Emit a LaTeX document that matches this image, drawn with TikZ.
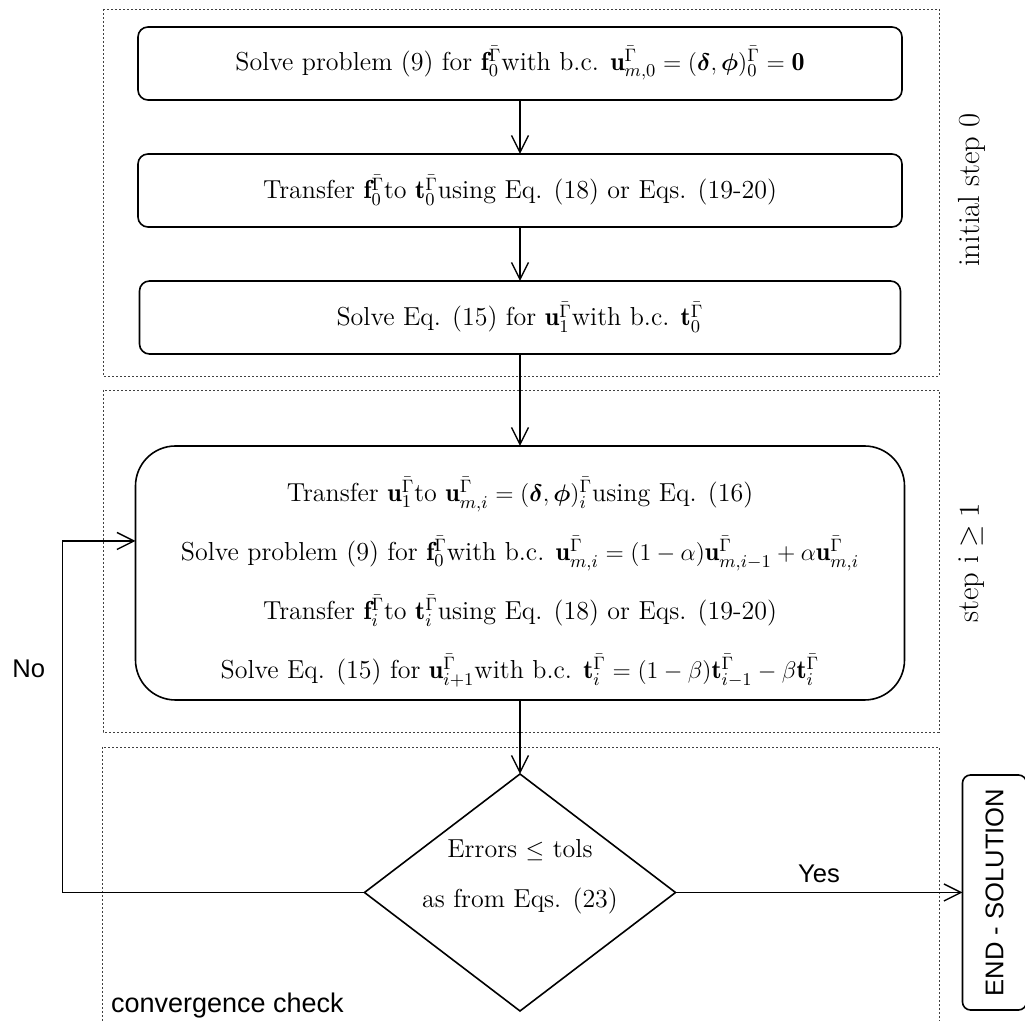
\documentclass[tikz,border=0pt]{standalone}
\usepackage{amsmath}
\usepackage{fontspec}
\newfontfamily\helv{Liberation Sans}
\usepackage{tikz}
\usetikzlibrary{arrows.meta, positioning, shapes.geometric, calc}

\begin{document}
\begin{tikzpicture}[
  x=0.5pt, y=-0.5pt,
  node distance = 27pt,
  stepbox/.style = {draw, line width=0.8pt, outer sep=0pt, rounded corners=5pt, align=center, minimum width=382pt, minimum height=36.5pt, font=\fontsize{13}{16}\selectfont},
  loopbox/.style = {draw, line width=0.8pt, outer sep=0pt, rounded corners=20pt, align=center, minimum width=384.5pt, minimum height=127pt, font=\fontsize{13}{29.5}\selectfont},
  checkbox/.style = {draw, diamond, line width=0.8pt, outer sep=0pt, inner sep=0pt, minimum width=155.5pt, minimum height=118.5pt},
  endbox/.style = {draw, line width=0.8pt, outer sep=0pt, rounded corners=4pt, rotate=90, minimum width=117.5pt, minimum height=32pt, font=\helv\fontsize{12.8}{15}\selectfont},
  zone/.style = {draw=black!75, line width=0.4pt, dash pattern=on 1pt off 1pt},
  sidelabel/.style = {rotate=90, font=\fontsize{15.3}{18}\selectfont},
  yesno/.style = {font=\helv\fontsize{12.8}{15}\selectfont},
  arrow/.style = {line width=0.7pt, -{Straight Barb[length=8.5pt,width=8.5pt]}}
]
\useasboundingbox (0,0) rectangle (1025,1021);

% dotted zones
\draw[zone] (103,9) rectangle (939,376);
\draw[zone] (103,390) rectangle (939,732);
\draw[zone] (102,747) rectangle (939,1040);

% initial step
\node[stepbox] (b1) at (520,63.5) {Solve problem (9) for $\mathbf{f}_0^{\bar{\Gamma}}$with b.c. $\mathbf{u}_{m,0}^{\bar{\Gamma}} = (\boldsymbol{\delta},\boldsymbol{\phi})_0^{\bar{\Gamma}} = \mathbf{0}$};
\node[stepbox, below=of b1] (b2) {Transfer $\mathbf{f}_0^{\bar{\Gamma}}$to $\mathbf{t}_0^{\bar{\Gamma}}$using Eq. (18) or Eqs. (19-20)};
\node[stepbox, below=of b2, minimum width=380.5pt] (b3) {Solve Eq. (15) for $\mathbf{u}_1^{\bar{\Gamma}}$with b.c. $\mathbf{t}_0^{\bar{\Gamma}}$};

% iteration
\node[loopbox, below=46pt of b3] (B) {\rule{0pt}{21pt}Transfer $\mathbf{u}_1^{\bar{\Gamma}}$to $\mathbf{u}_{m,i}^{\bar{\Gamma}} = (\boldsymbol{\delta},\boldsymbol{\phi})_i^{\bar{\Gamma}}$using Eq. (16)\\
  Solve problem (9) for $\mathbf{f}_0^{\bar{\Gamma}}$with b.c. $\mathbf{u}_{m,i}^{\bar{\Gamma}} = (1-\alpha)\mathbf{u}_{m,i-1}^{\bar{\Gamma}} + \alpha\mathbf{u}_{m,i}^{\bar{\Gamma}}$\\
  Transfer $\mathbf{f}_i^{\bar{\Gamma}}$to $\mathbf{t}_i^{\bar{\Gamma}}$using Eq. (18) or Eqs. (19-20)\\
  Solve Eq. (15) for $\mathbf{u}_{i+1}^{\bar{\Gamma}}$with b.c. $\mathbf{t}_i^{\bar{\Gamma}} = (1-\beta)\mathbf{t}_{i-1}^{\bar{\Gamma}} - \beta\mathbf{t}_i^{\bar{\Gamma}}$};

% convergence check
\node[checkbox, below=37pt of B,
  label={[name=Dtext, align=center, yshift=8pt, font=\fontsize{13}{25}\selectfont]center:{Errors $\leq$ tols\\as from Eqs. (23)}}] (D) {};
\node[endbox, anchor=north] (E) at ($(D.east)+(287,0)$) {END - SOLUTION};
\coordinate (fb) at ($(B.west)+(0,-32)$);

\node[sidelabel] (s0) at (972,190) {initial step 0};
\node[sidelabel] (s1) at (972,563) {step $\mathrm{i} \geq 1$};
\node[yesno, anchor=base west, font=\helv\fontsize{13.5}{16}\selectfont] (cc) at (104,1013) {convergence check};

\draw[arrow] (b1) -- (b2);
\draw[arrow] (b2) -- (b3);
\draw[arrow] (b3) -- (B);
\draw[arrow] (B) -- (D);
\draw[arrow] (D) -- node[yesno, above=1pt] {Yes} (E);
\draw[arrow] (D.west) -- ++(-302,0) |- node[yesno, pos=0.318, left=5pt] {No} (fb);
\end{tikzpicture}
\end{document}
